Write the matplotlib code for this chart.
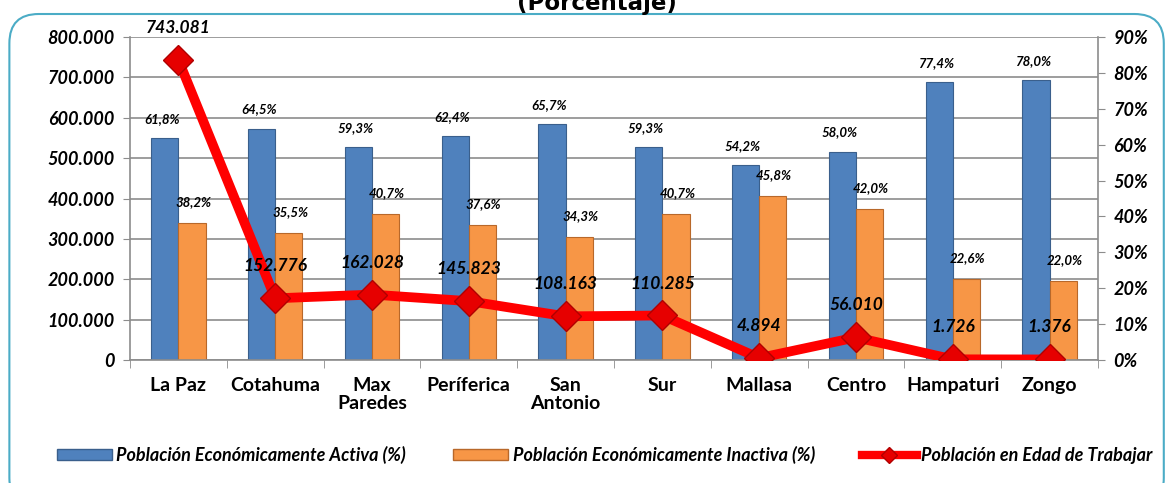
import matplotlib.pyplot as plt
import numpy as np
from matplotlib.patches import FancyBboxPatch, Patch
from matplotlib.lines import Line2D

plt.rcParams['font.family'] = ['Lato', 'DejaVu Sans']

distritos = ['La Paz', 'Cotahuma', 'Max\nParedes', 'Períferica', 'San\nAntonio',
             'Sur', 'Mallasa', 'Centro', 'Hampaturi', 'Zongo']
pea = [61.8, 64.5, 59.3, 62.4, 65.7, 59.3, 54.2, 58.0, 77.4, 78.0]
pei = [38.2, 35.5, 40.7, 37.6, 34.3, 40.7, 45.8, 42.0, 22.6, 22.0]
pet = [743081, 152776, 162028, 145823, 108163, 110285, 4894, 56010, 1726, 1376]
left_ticks = [0, 100000, 200000, 300000, 400000, 500000, 600000, 700000, 800000]
right_ticks = [0, 10, 20, 30, 40, 50, 60, 70, 80, 90]

blue = '#4F81BD'
orange = '#F79646'
red = '#FF0000'

fig = plt.figure(figsize=(11.72, 4.83), dpi=100)

# rounded frame
frame = FancyBboxPatch((0.008, -0.05), 0.985, 1.021, transform=fig.transFigure,
                       boxstyle='round,pad=0,rounding_size=0.025',
                       facecolor='none', edgecolor='#4BACC6', lw=1.5,
                       mutation_aspect=1172 / 483)
fig.patches.append(frame)

fig.text(0.509, 1 - 10 / 483, '(Porcentaje)', ha='center', va='baseline',
         fontsize=16.5, fontweight='bold', family=['DejaVu Sans'])

ax = fig.add_axes([130 / 1172, 1 - 360 / 483, (1098 - 130) / 1172, (360 - 37) / 483])
x = np.arange(len(distritos))
w = 0.28

# gridlines follow the left axis ticks
for t in left_ticks:
    ax.axhline(t / left_ticks[-1] * right_ticks[-1], color='#8C8C8C', lw=1.2, zorder=0)

ax.bar(x - w / 2, pea, w, color=blue, edgecolor='#3A5F8C', lw=0.8, zorder=2)
ax.bar(x + w / 2, pei, w, color=orange, edgecolor='#B8682A', lw=0.8, zorder=2)
ax.set_ylim(0, right_ticks[-1])
ax.set_xlim(-0.5, len(distritos) - 0.5)
ax.set_xticks(x)
ax.set_xticklabels(distritos, fontsize=14, fontweight='bold', linespacing=1.1)
ax.set_xticks(np.arange(-0.5, len(distritos), 1), minor=True)
ax.tick_params(axis='x', which='major', length=0, pad=12)
ax.tick_params(axis='x', which='minor', length=6, color='#8C8C8C')
ax.spines['top'].set_visible(False)
for s in ['left', 'right', 'bottom']:
    ax.spines[s].set_color('#8C8C8C')
    ax.spines[s].set_linewidth(1.2)

for i in range(len(distritos)):
    ax.annotate(f'{pea[i]:.1f}%'.replace('.', ','), (x[i] - w / 2, pea[i]),
                xytext=(-2, 14), textcoords='offset points', ha='center', va='center',
                fontsize=9.5, fontweight='bold', fontstyle='italic')
    ax.annotate(f'{pei[i]:.1f}%'.replace('.', ','), (x[i] + w / 2, pei[i]),
                xytext=(1, 15), textcoords='offset points', ha='center', va='center',
                fontsize=9.5, fontweight='bold', fontstyle='italic')

ax2 = ax.twinx()
ax2.plot(x, pet, color=red, lw=7, marker='D', markersize=15,
         markerfacecolor='#E60000', markeredgecolor='#B00000', markeredgewidth=1,
         zorder=3, solid_joinstyle='round')
ax2.set_ylim(0, left_ticks[-1])
ax2.yaxis.tick_left()
ax2.set_yticks(left_ticks)
ax2.set_yticklabels([f'{t:,.0f}'.replace(',', '.') for t in left_ticks], fontsize=13,
                    fontweight='bold', fontstyle='italic')
ax2.tick_params(axis='y', length=5, color='#8C8C8C', pad=6)
for s in ax2.spines.values():
    s.set_visible(False)

# percentages on the right (twinx moves them left, so set after)
ax.yaxis.tick_right()
ax.set_yticks(right_ticks)
ax.set_yticklabels([f'{t}%' for t in right_ticks], fontsize=13,
                   fontweight='bold', fontstyle='italic')
ax.tick_params(axis='y', length=5, color='#8C8C8C', pad=6)

for i in range(len(distritos)):
    ax2.annotate(f'{pet[i]:,.0f}'.replace(',', '.'), (x[i], pet[i]),
                 xytext=(0, 23), textcoords='offset points', ha='center', va='center',
                 fontsize=12.5, fontweight='bold', fontstyle='italic')

handles = [Patch(facecolor=blue, edgecolor='#3A5F8C'),
           Patch(facecolor=orange, edgecolor='#B8682A'),
           Line2D([0], [0], color=red, lw=6, marker='D', markersize=8,
                  markerfacecolor='#E60000', markeredgecolor='#B00000')]
labels = ['Población Económicamente Activa (%)',
          'Población Económicamente Inactiva (%)',
          'Población en Edad de Trabajar']
fig.legend(handles, labels, loc='center', bbox_to_anchor=(0.516, 1 - 455 / 483),
           ncol=3, frameon=False, columnspacing=2.6, handlelength=3.05, handleheight=0.6,
           handletextpad=0.25, prop={'size': 13, 'weight': 'bold', 'style': 'italic'})

plt.savefig('out.png', dpi=100)
